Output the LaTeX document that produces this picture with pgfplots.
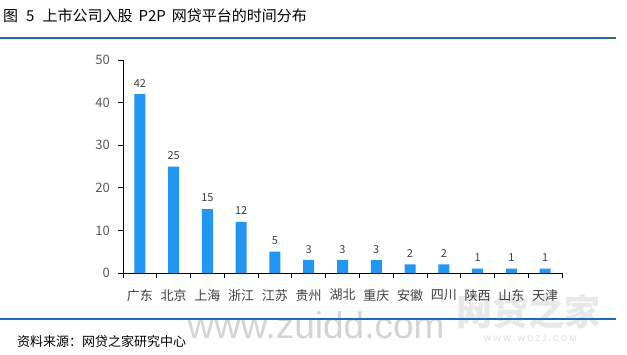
\documentclass[border=0pt]{standalone}
\usepackage{fontspec}
\setmainfont{Noto Sans CJK SC}
\newfontfamily\latin{Liberation Sans}
\usepackage{pgfplots}
\pgfplotsset{compat=1.18}
\definecolor{barblue}{RGB}{33,150,243}
\definecolor{titleline}{RGB}{40,108,152}
\definecolor{srcline}{RGB}{30,104,192}
\definecolor{ticklab}{RGB}{89,89,89}
\definecolor{catlab}{RGB}{64,64,64}
\begin{document}
\begin{tikzpicture}
\useasboundingbox (0pt,0pt) rectangle (627pt,354pt);
\fill[white] (0pt,0pt) rectangle (627pt,354pt);
% title
\node[anchor=west, inner sep=0, font=\fontsize{15}{15}\selectfont] at (3pt,338pt) {图\hspace{8pt}5\hspace{8pt}上市公司入股\hspace{6pt}P2P\hspace{6pt}网贷平台的时间分布};
\draw[titleline, line width=2.8pt] (0pt,316pt) -- (616pt,316pt);
% watermark
\node[anchor=base, inner sep=0, text=black!17, font=\latin\fontsize{37}{37}\selectfont] at (316pt,16pt) {www.zuidd.com};
\node[anchor=center, inner sep=0, text=black!9, font=\fontsize{36}{36}\selectfont\bfseries] at (528pt,42pt) {网贷之家};
\node[anchor=center, inner sep=0, text=black!14, font=\latin\fontsize{8}{8}\selectfont] at (530pt,15pt) {W\ W\ W\ .\ W\ D\ Z\ J\ .\ C\ O\ M};
% bottom rule and source
\draw[srcline, line width=2.4pt] (0pt,35pt) -- (616pt,35pt);
\node[anchor=west, inner sep=0, font=\fontsize{13}{13}\selectfont] at (17pt,12pt) {资料来源：网贷之家研究中心};
\begin{axis}[
  at={(123pt,81pt)}, anchor=south west,
  scale only axis, width=439pt, height=213pt,
  xmin=-0.5, xmax=12.5, ymin=0, ymax=50,
  axis x line*=bottom, axis y line*=left,
  axis line style={black, line width=0.8pt},
  tick align=outside,
  major tick length=5pt, minor tick length=5pt,
  xtick={0,...,12},
  xticklabels={广东,北京,上海,浙江,江苏,贵州,湖北,重庆,安徽,四川,陕西,山东,天津},
  minor xtick={-0.5,0.5,...,12.5},
  major x tick style={draw=none},
  minor x tick style={black, line width=0.8pt},
  ytick={0,10,...,50},
  ytick style={black, line width=0.8pt},
  xticklabel style={inner sep=0, yshift=-11pt, text=catlab, font=\fontsize{13}{13}\selectfont},
  yticklabel style={inner sep=0, xshift=-8pt, text=ticklab, font=\fontsize{13}{13}\selectfont},
  /pgf/number format/assume math mode=true,
  nodes near coords,
  every node near coord/.append style={anchor=center, yshift=11pt, text=catlab, font=\fontsize{11}{11}\selectfont},
  clip=false,
]
\addplot[ybar, bar width=11pt, fill=barblue, draw=none] coordinates {
(0,42) (1,25) (2,15) (3,12) (4,5) (5,3) (6,3) (7,3) (8,2) (9,2) (10,1) (11,1) (12,1)};
\end{axis}
\end{tikzpicture}
\end{document}
